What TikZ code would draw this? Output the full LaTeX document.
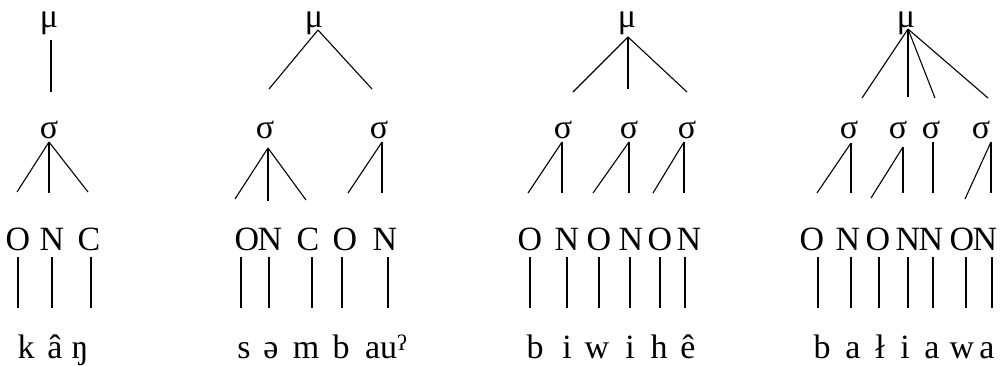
\documentclass[tikz,border=0pt]{standalone}
\usepackage{fontspec}
\setmainfont{Liberation Serif}
\newcommand{\tfs}{\fontsize{34}{40}\selectfont}
\tikzset{
  lbl/.style={inner sep=0pt, anchor=base, font=\tfs},
  ln/.style={line width=1.1pt, line cap=butt},
}
\begin{document}
\begin{tikzpicture}[x=1pt,y=-1pt]
\useasboundingbox (0,0) rectangle (1005,365);

% ---------------- Tree 1 : kâŋ ----------------
\node[lbl] (a-mu) at (49,27) {μ};
\node[lbl] (a-sg) at (49,138) {σ};
\node[lbl] (a-O) at (18,250) {O};
\node[lbl] (a-N) at (52,250) {N};
\node[lbl] (a-C) at (89,250) {C};
\node[lbl] (a-k) at (26,358) {k};
\node[lbl] (a-a) at (55,358) {â};
\node[lbl] (a-ng) at (80,358) {ŋ};
\coordinate (a-mu1) at (51,40);  \coordinate (a-sg0) at (51,92);
\coordinate (a-sgt) at (49,142);
\coordinate (a-s1) at (17,192); \coordinate (a-s2) at (49,193); \coordinate (a-s3) at (88,192);
\draw[ln] (a-mu1) -- (a-sg0);
\draw[ln] (a-sgt) -- (a-s1);
\draw[ln] (a-sgt) -- (a-s2);
\draw[ln] (a-sgt) -- (a-s3);
\foreach \x/\n in {18/1,52/2,91/3}{
  \coordinate (a-v\n t) at (\x,257); \coordinate (a-v\n b) at (\x,308);
  \draw[ln] (a-v\n t) -- (a-v\n b);
}

% ---------------- Tree 2 : səmbauʔ ----------------
\node[lbl] (b-mu) at (314,27) {μ};
\node[lbl] (b-sg1) at (265,138) {σ};
\node[lbl] (b-sg2) at (379,138) {σ};
\node[lbl] (b-O1) at (247,250) {O};
\node[lbl] (b-N1) at (270,250) {N};
\node[lbl] (b-C) at (308,250) {C};
\node[lbl] (b-O2) at (345,250) {O};
\node[lbl] (b-N2) at (385,250) {N};
\node[lbl] (b-s) at (244,358) {s};
\node[lbl] (b-e) at (271,358) {ə};
\node[lbl] (b-m) at (306,358) {m};
\node[lbl] (b-b) at (341,358) {b};
\node[lbl] (b-au) at (386,358) {au\raisebox{0.45ex}{\fontsize{22}{22}\selectfont ʔ}};
\coordinate (b-mut) at (318,30);
\coordinate (b-m1) at (269,89); \coordinate (b-m2) at (372,89);
\draw[ln] (b-mut) -- (b-m1);
\draw[ln] (b-mut) -- (b-m2);
\coordinate (b-s1t) at (268,148);
\coordinate (b-s1a) at (235,199); \coordinate (b-s1b) at (268,201); \coordinate (b-s1c) at (306,200);
\draw[ln] (b-s1t) -- (b-s1a);
\draw[ln] (b-s1t) -- (b-s1b);
\draw[ln] (b-s1t) -- (b-s1c);
\coordinate (b-s2t) at (382,142);
\coordinate (b-s2a) at (348,193); \coordinate (b-s2b) at (382,193);
\draw[ln] (b-s2t) -- (b-s2a);
\draw[ln] (b-s2t) -- (b-s2b);
\foreach \x/\n in {241/1,269/2,312/3,342/4,388/5}{
  \coordinate (b-v\n t) at (\x,257); \coordinate (b-v\n b) at (\x,308);
  \draw[ln] (b-v\n t) -- (b-v\n b);
}

% ---------------- Tree 3 : biwihê ----------------
\node[lbl] (c-mu) at (627,27) {μ};
\node[lbl] (c-sg1) at (563,138) {σ};
\node[lbl] (c-sg2) at (629,138) {σ};
\node[lbl] (c-sg3) at (687,138) {σ};
\foreach \x/\t/\n in {530/O/1,567/N/2,599/O/3,631/N/4,660/O/5,689/N/6}{
  \node[lbl] (c-L\n) at (\x,250) {\t};
}
\foreach \x/\t/\n in {535/b/1,567/i/2,597/w/3,630/i/4,659/h/5,688/ê/6}{
  \node[lbl] (c-W\n) at (\x,358) {\t};
}
\coordinate (c-mut) at (628,37);
\coordinate (c-m1) at (573,92); \coordinate (c-m2) at (628,89); \coordinate (c-m3) at (687,92);
\draw[ln] (c-mut) -- (c-m1);
\draw[ln] (c-mut) -- (c-m2);
\draw[ln] (c-mut) -- (c-m3);
\foreach \ax/\lx/\n in {562/528/1,629/593/2,684/653/3}{
  \coordinate (c-s\n t) at (\ax,142);
  \coordinate (c-s\n a) at (\lx,193); \coordinate (c-s\n b) at (\ax,193);
  \draw[ln] (c-s\n t) -- (c-s\n a);
  \draw[ln] (c-s\n t) -- (c-s\n b);
}
\foreach \x/\n in {530/1,567/2,599/3,630/4,660/5,685/6}{
  \coordinate (c-v\n t) at (\x,257); \coordinate (c-v\n b) at (\x,308);
  \draw[ln] (c-v\n t) -- (c-v\n b);
}

% ---------------- Tree 4 : bałiawa ----------------
\node[lbl] (d-mu) at (906,27) {μ};
\node[lbl] (d-sg1) at (849,138) {σ};
\node[lbl] (d-sg2) at (898,138) {σ};
\node[lbl] (d-sg3) at (931,138) {σ};
\node[lbl] (d-sg4) at (981,138) {σ};
\foreach \x/\t/\n in {812/O/1,848/N/2,878/O/3,908/N/4,931/N/5,962/O/6,985/N/7}{
  \node[lbl] (d-L\n) at (\x,250) {\t};
}
\foreach \x/\t/\n in {822/b/1,853/a/2,880/ł/3,905/i/4,932/a/5,962/w/6,987/a/7}{
  \node[lbl] (d-W\n) at (\x,358) {\t};
}
\coordinate (d-mut) at (908,29);
\coordinate (d-m1) at (862,98); \coordinate (d-m2) at (908,97);
\coordinate (d-m3) at (935,98); \coordinate (d-m4) at (988,98);
\draw[ln] (d-mut) -- (d-m1);
\draw[ln] (d-mut) -- (d-m2);
\draw[ln] (d-mut) -- (d-m3);
\draw[ln] (d-mut) -- (d-m4);
\coordinate (d-s1t) at (851,143);
\coordinate (d-s1a) at (817,193); \coordinate (d-s1b) at (851,193);
\draw[ln] (d-s1t) -- (d-s1a);
\draw[ln] (d-s1t) -- (d-s1b);
\coordinate (d-s2t) at (903,147);
\coordinate (d-s2a) at (871,198); \coordinate (d-s2b) at (903,193);
\draw[ln] (d-s2t) -- (d-s2a);
\draw[ln] (d-s2t) -- (d-s2b);
\coordinate (d-s3t) at (933,142);
\coordinate (d-s3b) at (933,193);
\draw[ln] (d-s3t) -- (d-s3b);
\coordinate (d-s4t) at (991,142);
\coordinate (d-s4a) at (965,199); \coordinate (d-s4b) at (991,193);
\draw[ln] (d-s4t) -- (d-s4a);
\draw[ln] (d-s4t) -- (d-s4b);
\foreach \x/\n in {818/1,851/2,879/3,908/4,933/5,966/6,992/7}{
  \coordinate (d-v\n t) at (\x,257); \coordinate (d-v\n b) at (\x,308);
  \draw[ln] (d-v\n t) -- (d-v\n b);
}
\end{tikzpicture}
\end{document}
